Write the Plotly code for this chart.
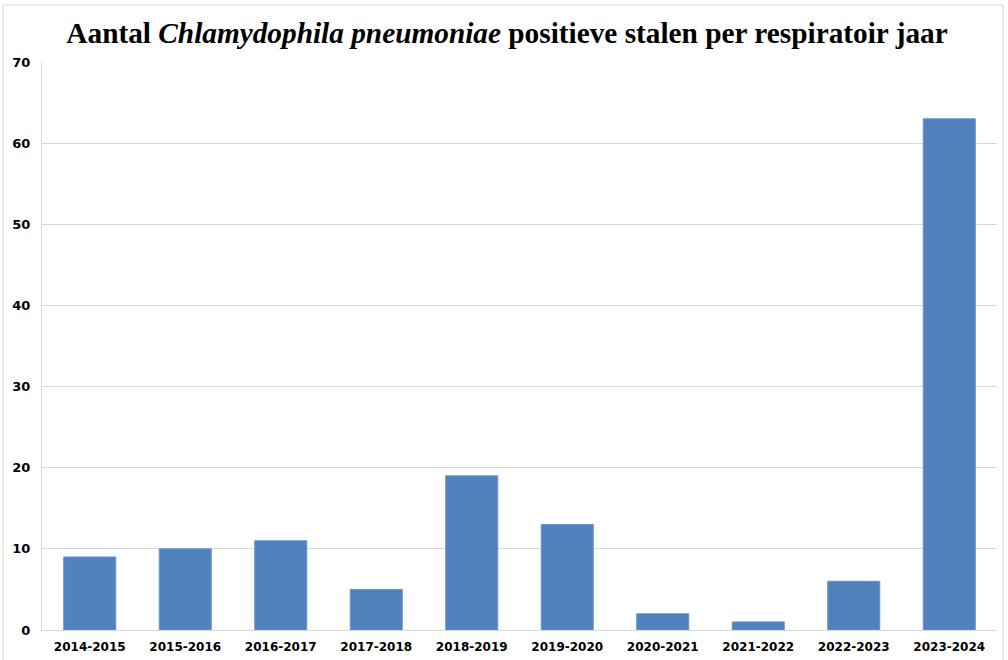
import plotly.graph_objects as go

seasons = ["2014-2015", "2015-2016", "2016-2017", "2017-2018", "2018-2019",
           "2019-2020", "2020-2021", "2021-2022", "2022-2023", "2023-2024"]
counts = [9, 10, 11, 5, 19, 13, 2, 1, 6, 63]

W, H = 1008, 660
L, R, T, B = 42, 11, 62, 30
pw = W - L - R
ph = H - T - B

fig = go.Figure(go.Bar(
    x=seasons, y=counts,
    marker=dict(color="#4f81bd", line=dict(color="#6a95c8", width=1)),
    width=0.545,
))

fig.update_layout(
    width=W, height=H,
    margin=dict(l=L, r=R, t=T, b=B),
    paper_bgcolor="white", plot_bgcolor="white",
    showlegend=False,
    title=dict(
        text="Aantal <i>Chlamydophila pneumoniae</i> positieve stalen per respiratoir jaar",
        x=0.503, xanchor="center", y=1 - 33 / H, yanchor="middle",
        font=dict(family="Liberation Serif", size=29.3, color="black", weight="bold"),
    ),
    xaxis=dict(
        automargin=False,
        showgrid=False, showline=True, linecolor="#d9d9d9", linewidth=1,
        ticks="", tickfont=dict(family="DejaVu Sans", size=12, color="black", weight="bold"),
        ticklabelstandoff=6,
    ),
    yaxis=dict(
        automargin=False,
        range=[0, 70], dtick=10, showgrid=True, gridcolor="#d9d9d9", gridwidth=1,
        showline=True, linecolor="#d9d9d9", zeroline=False,
        ticks="", tickfont=dict(family="DejaVu Sans", size=13, color="black", weight="bold"),
        ticklabelstandoff=8,
    ),
    bargap=0.45,
)

# outer chart border
fig.add_shape(type="rect", xref="paper", yref="paper",
              x0=(3 - L) / pw, x1=(1003 - L) / pw,
              y0=-(B + 20) / ph, y1=1 + (T - 5) / ph,
              line=dict(color="#d9d9d9", width=1), fillcolor="rgba(0,0,0,0)", layer="below")

fig.write_html("out.html", config={"displayModeBar": False},
               post_script="document.body.style.margin='0';document.body.style.overflow='hidden';")
